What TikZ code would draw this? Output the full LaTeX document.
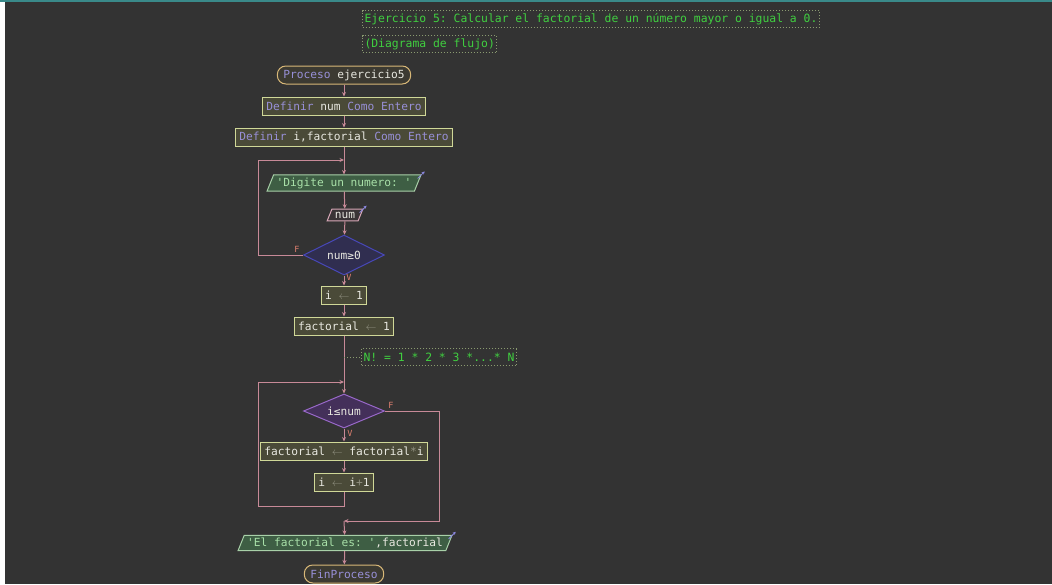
\documentclass[tikz,border=0pt]{standalone}
\usepackage{fontspec}
\setmonofont{DejaVu Sans Mono}
\usetikzlibrary{shapes.geometric}
\usetikzlibrary{arrows.meta}

\definecolor{fondo}{HTML}{333333}
\definecolor{barra}{HTML}{3A8A8A}
\definecolor{linea}{HTML}{C88A98}
\definecolor{procborde}{HTML}{D8B878}
\definecolor{procfondo}{HTML}{3C3A32}
\definecolor{asgborde}{HTML}{D0D898}
\definecolor{asgfondo}{HTML}{4A4A38}
\definecolor{salborde}{HTML}{A8D0A8}
\definecolor{salfondo}{HTML}{3E5E44}
\definecolor{entborde}{HTML}{D8A8B8}
\definecolor{entfondo}{HTML}{3A3436}
\definecolor{decborde}{HTML}{4848B8}
\definecolor{decfondo}{HTML}{302E50}
\definecolor{mientborde}{HTML}{9868C8}
\definecolor{mientfondo}{HTML}{44305A}
\definecolor{kw}{HTML}{9890D8}
\definecolor{txt}{HTML}{E8E8E0}
\definecolor{cadena}{HTML}{A8E0A8}
\definecolor{cmt}{HTML}{40D040}
\definecolor{cmtborde}{HTML}{8A9A70}
\definecolor{flechita}{HTML}{909080}
\definecolor{etiqueta}{HTML}{E08070}
\definecolor{icono}{HTML}{8C88E0}

\tikzset{
  base/.style={font=\ttfamily\fontsize{11.2}{13}\selectfont, text=txt, minimum height=18pt,
    inner xsep=4pt, inner ysep=2pt, line width=1pt},
  proceso/.style={base, draw=procborde, fill=procfondo, rounded corners=8.5pt, inner xsep=6pt},
  asignar/.style={base, draw=asgborde, fill=asgfondo},
  paralelo/.style={base, trapezium, trapezium left angle=68, trapezium right angle=112,
    minimum height=0pt, inner ysep=2.6pt, inner xsep=3pt},
  salida/.style={paralelo, draw=salborde, fill=salfondo, text=cadena},
  entrada/.style={paralelo, draw=entborde, fill=entfondo},
  decision/.style={base, diamond, aspect=2, inner sep=0pt, minimum width=81pt, minimum height=40pt},
  comentario/.style={base, font=\ttfamily\fontsize{11.4}{13}\selectfont, draw=cmtborde, dotted,
    text=cmt, inner xsep=2pt, minimum height=17pt},
  flecha/.style={draw=linea, line width=1pt, -{Stealth[length=4.5pt,width=4pt]}},
  etiq/.style={font=\ttfamily\fontsize{8.5}{9}\selectfont, text=etiqueta},
  icon/.style={draw=icono, line width=0.8pt, -{Stealth[length=3pt,width=3pt]}}
}
\newcommand{\asig}{{\color{flechita}$\leftarrow$}}

\begin{document}
\begin{tikzpicture}[x=1pt,y=-1pt]
% fondo de la ventana
\fill[fondo] (0,0) rectangle (1052,584);
\fill[barra] (0,0) rectangle (1052,2);
\fill[white] (0,2) rectangle (5,584);

% comentarios
\node[comentario, anchor=west] (cmt1) at (362,19) {Ejercicio 5: Calcular el factorial de un número mayor o igual a 0.};
\node[comentario, anchor=west] (cmt2) at (362,44) {(Diagrama de flujo)};

\node[proceso] (proc) at (344,75) {{\color{kw}Proceso} ejercicio5};
\node[asignar] (def1) at (344,106) {{\color{kw}Definir} num {\color{kw}Como Entero}};
\node[asignar] (def2) at (344,137) {{\color{kw}Definir} i,factorial {\color{kw}Como Entero}};

% repetir ... hasta que num>=0
\node[salida] (dig) at (344,183) {'Digite un numero: '};
\node[entrada] (leer) at (345,215) {num};
\node[decision, draw=decborde, fill=decfondo] (cond1) at (344,255) {num≥0};
\coordinate (c1b) at (258,255);
\coordinate (c1a) at (258,160);
\coordinate (c1j) at (344,160);

\node[asignar] (ini1) at (344,295) {i \asig{} 1};
\node[asignar] (ini2) at (344,326) {factorial \asig{} 1};
\node[comentario, anchor=west] (cmt3) at (361,357) {N! = 1 * 2 * 3 *...* N};
\coordinate (cj) at (344,357);

% mientras i<=num
\node[decision, draw=mientborde, fill=mientfondo, minimum height=34pt] (cond2) at (344,411) {i≤num};
\node[asignar] (mult) at (344,451) {factorial \asig{} factorial{\color{flechita}*}i};
\node[asignar] (inc) at (344,482) {i \asig{} i{\color{flechita}+}1};
\coordinate (c2c) at (344,506);
\coordinate (c2b) at (258,506);
\coordinate (c2a) at (258,382);
\coordinate (c2j) at (344,382);
\coordinate (c3a) at (439,411);
\coordinate (c3b) at (439,521);
\coordinate (c3j) at (344,521);

\node[salida] (res) at (345,543) {'El factorial es: '{\color{txt},factorial}};
\node[proceso] (fin) at (344,574) {\color{kw}FinProceso};

% conectores
\draw[flecha] (proc) -- (def1);
\draw[flecha] (def1) -- (def2);
\draw[flecha] (def2) -- (dig);
\draw[flecha] (dig) -- (leer);
\draw[flecha] (leer) -- (cond1);
\draw[flecha] (cond1.west) -- (c1b) -- (c1a) -- (c1j);
\draw[flecha] (cond1) -- (ini1);
\draw[flecha] (ini1) -- (ini2);
\draw[flecha] (ini2) -- (cond2);
\draw[flecha] (cond2) -- (mult);
\draw[flecha] (mult) -- (inc);
\draw[flecha] (inc) -- (c2c) -- (c2b) -- (c2a) -- (c2j);
\draw[flecha] (cond2.east) -- (c3a) -- (c3b) -- (c3j);
\draw[flecha] (c3j) -- (res);
\draw[flecha] (res) -- (fin);
\draw[cmtborde, dotted, line width=1pt] (cj) -- (cmt3);

% etiquetas F / V
\node[etiq] (f1) at (297,249) {F};
\node[etiq] (v1) at (349,277) {V};
\node[etiq] (f2) at (391,405) {F};
\node[etiq] (v2) at (350,433) {V};

% iconos de entrada / salida
\draw[icon] ([xshift=-4pt,yshift=-4pt]dig.top right corner) -- ++(7,-7);
\draw[icon] ([xshift=-4pt,yshift=-4pt]leer.top right corner) -- ++(7,-7);
\draw[icon] ([xshift=-4pt,yshift=-4pt]res.top right corner) -- ++(7,-7);
\end{tikzpicture}
\end{document}
